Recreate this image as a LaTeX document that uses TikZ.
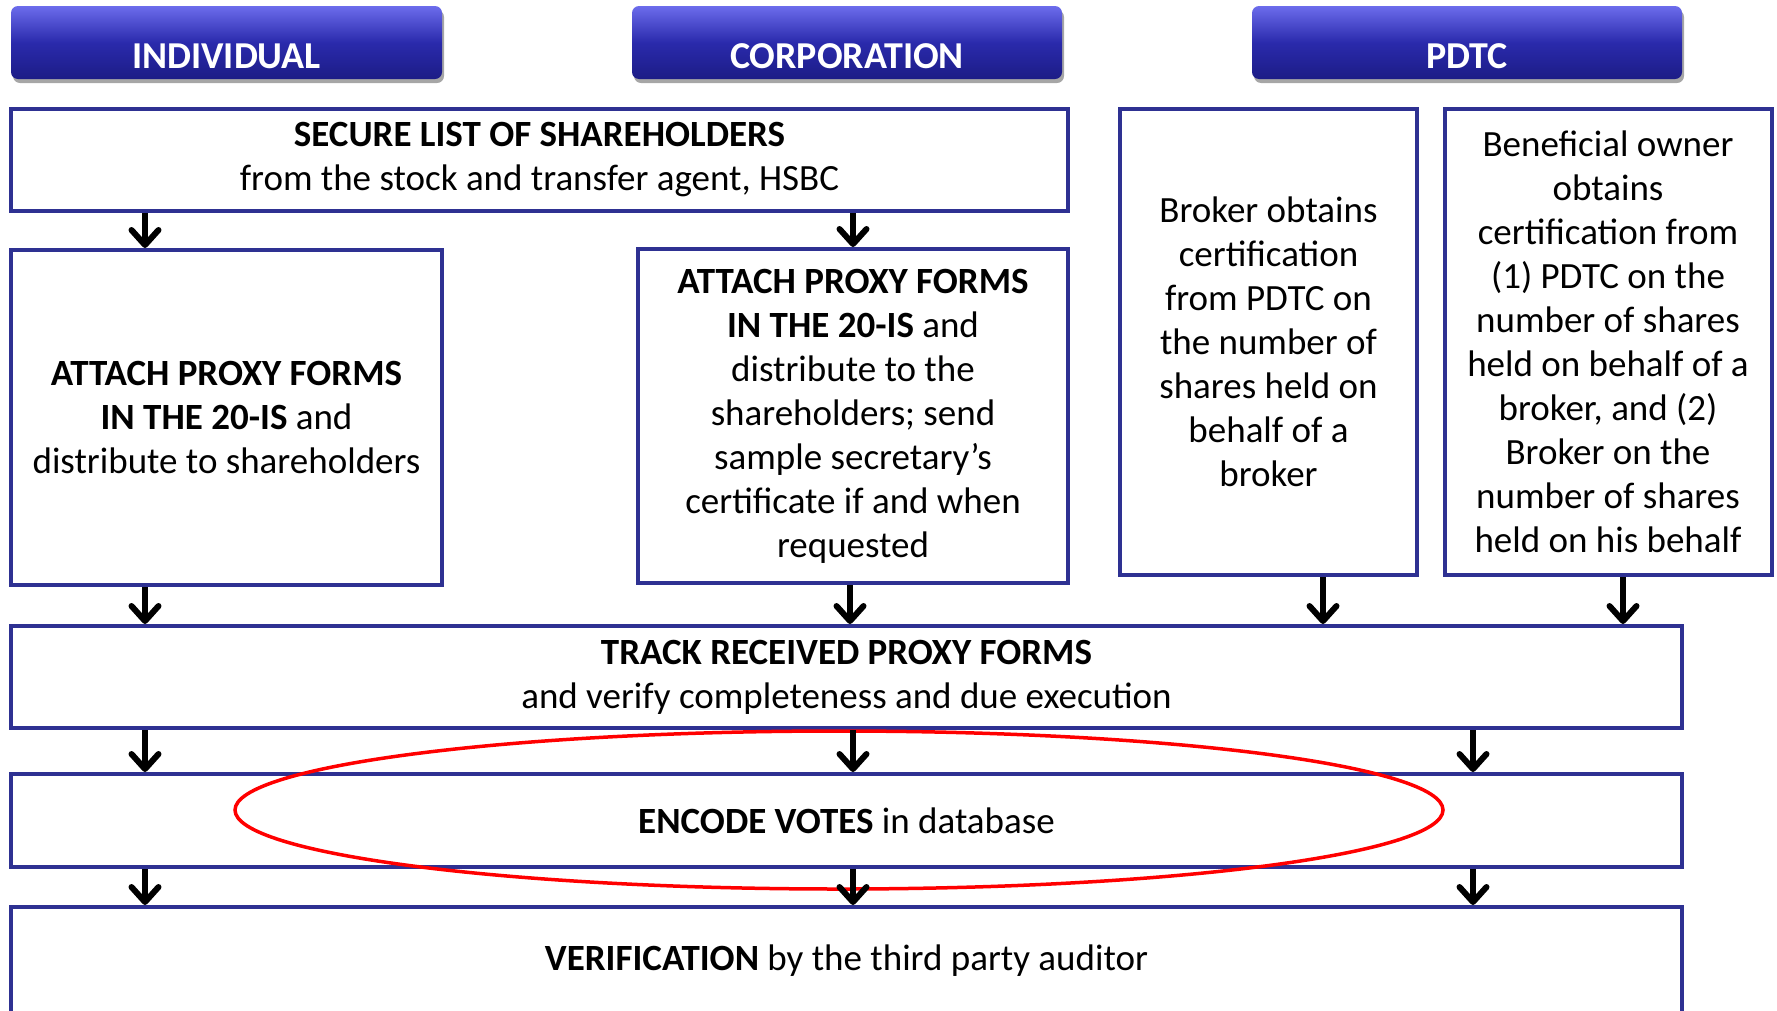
\documentclass[tikz,border=0pt]{standalone}
\usepackage{fontspec}
\setmainfont{Carlito}
\usetikzlibrary{arrows.meta,shadows,calc}
\definecolor{navy}{HTML}{2E3192}
\definecolor{hdrtop}{HTML}{6C6CEC}
\definecolor{hdrmid}{HTML}{2A2AAC}
\definecolor{hdrbot}{HTML}{1C1C86}
\definecolor{ovalred}{HTML}{FF0000}
\begin{document}
\begin{tikzpicture}[x=1pt,y=-1pt,
  box/.style={draw=navy, line width=4pt, fill=white, inner sep=0pt, align=center,
    font=\fontsize{37}{44}\selectfont},
  hdr/.style={rounded corners=7pt, top color=hdrtop, bottom color=hdrbot, middle color=hdrmid,
    draw=none, inner sep=0pt,
    drop shadow={shadow xshift=2pt, shadow yshift=-4pt, opacity=0.35, fill=black}},
  hdrtext/.style={text=white, font=\fontsize{38}{44}\selectfont\bfseries, inner sep=0pt},
  flow/.style={line width=6pt, -{Straight Barb[round, length=15pt, width=27pt]}},
  oval/.style={draw=ovalred, line width=3.5pt}]
\useasboundingbox (0,0) rectangle (1777,1010);
\clip (0,0) rectangle (1777,1010);

% headers
\node[hdr, minimum width=431pt, minimum height=73pt] (hInd) at (226.5,42.5) {};
\node[hdrtext] (hIndT) at (226.5,56) {INDIVIDUAL};
\node[hdr, minimum width=430pt, minimum height=73pt] (hCorp) at (847,42.5) {};
\node[hdrtext] (hCorpT) at (847,56) {CORPORATION};
\node[hdr, minimum width=430pt, minimum height=73pt] (hPdtc) at (1467,42.5) {};
\node[hdrtext] (hPdtcT) at (1467,56) {PDTC};

% boxes
\node[box, minimum width=1057pt, minimum height=102pt] (secure) at (539.5,160)
  {\textbf{SECURE LIST OF SHAREHOLDERS}\\from the stock and transfer agent, HSBC};
\node[box, minimum width=431pt, minimum height=335pt] (indA) at (226.5,417.5)
  {\textbf{ATTACH PROXY FORMS}\\\textbf{IN THE 20-IS} and\\distribute to shareholders};
\node[box, minimum width=430pt, minimum height=334pt] (corpA) at (853,416)
  {\textbf{ATTACH PROXY FORMS}\\\textbf{IN THE 20-IS} and\\distribute to the\\shareholders; send\\sample secretary’s\\certificate if and when\\requested};
\node[box, minimum width=297pt, minimum height=466pt] (broker) at (1268.5,342)
  {Broker obtains\\certification\\from PDTC on\\the number of\\shares held on\\behalf of a\\broker};
\node[box, minimum width=327pt, minimum height=466pt] (benef) at (1608,342)
  {Beneficial owner\\obtains\\certification from\\(1) PDTC on the\\number of shares\\held on behalf of a\\broker, and (2)\\Broker on the\\number of shares\\held on his behalf};
\node[box, minimum width=1671pt, minimum height=102pt] (track) at (846.5,677)
  {\textbf{TRACK RECEIVED PROXY FORMS}\\and verify completeness and due execution};
\node[box, minimum width=1671pt, minimum height=93pt] (encode) at (846.5,820.5)
  {\textbf{ENCODE VOTES} in database};
\node[box, minimum width=1671pt, minimum height=108pt] (verif) at (846.5,961)
  {\textbf{VERIFICATION} by the third party auditor};

% arrow columns
\coordinate (xI) at (145,0);
\coordinate (xC) at (853,0);
\coordinate (xC2) at (850,0);
\coordinate (xB) at (1323,0);
\coordinate (xO) at (1623,0);
\coordinate (xR) at (1473,0);

% oval
\draw[oval] (839,810) ellipse [x radius=604, y radius=79];

% arrows
\draw[flow] (secure.south -| xI) -- (indA.north -| xI);
\draw[flow] (secure.south -| xC) -- (corpA.north -| xC);
\draw[flow] (indA.south -| xI) -- (track.north -| xI);
\draw[flow] (corpA.south -| xC2) -- (track.north -| xC2);
\draw[flow] (broker.south -| xB) -- (track.north -| xB);
\draw[flow] (benef.south -| xO) -- (track.north -| xO);
\draw[flow] (track.south -| xI) -- (encode.north -| xI);
\draw[flow] (track.south -| xC) -- (encode.north -| xC);
\draw[flow] (track.south -| xR) -- (encode.north -| xR);
\draw[flow] (encode.south -| xI) -- (verif.north -| xI);
\draw[flow] (encode.south -| xC) -- (verif.north -| xC);
\draw[flow] (encode.south -| xR) -- (verif.north -| xR);
\end{tikzpicture}
\end{document}
